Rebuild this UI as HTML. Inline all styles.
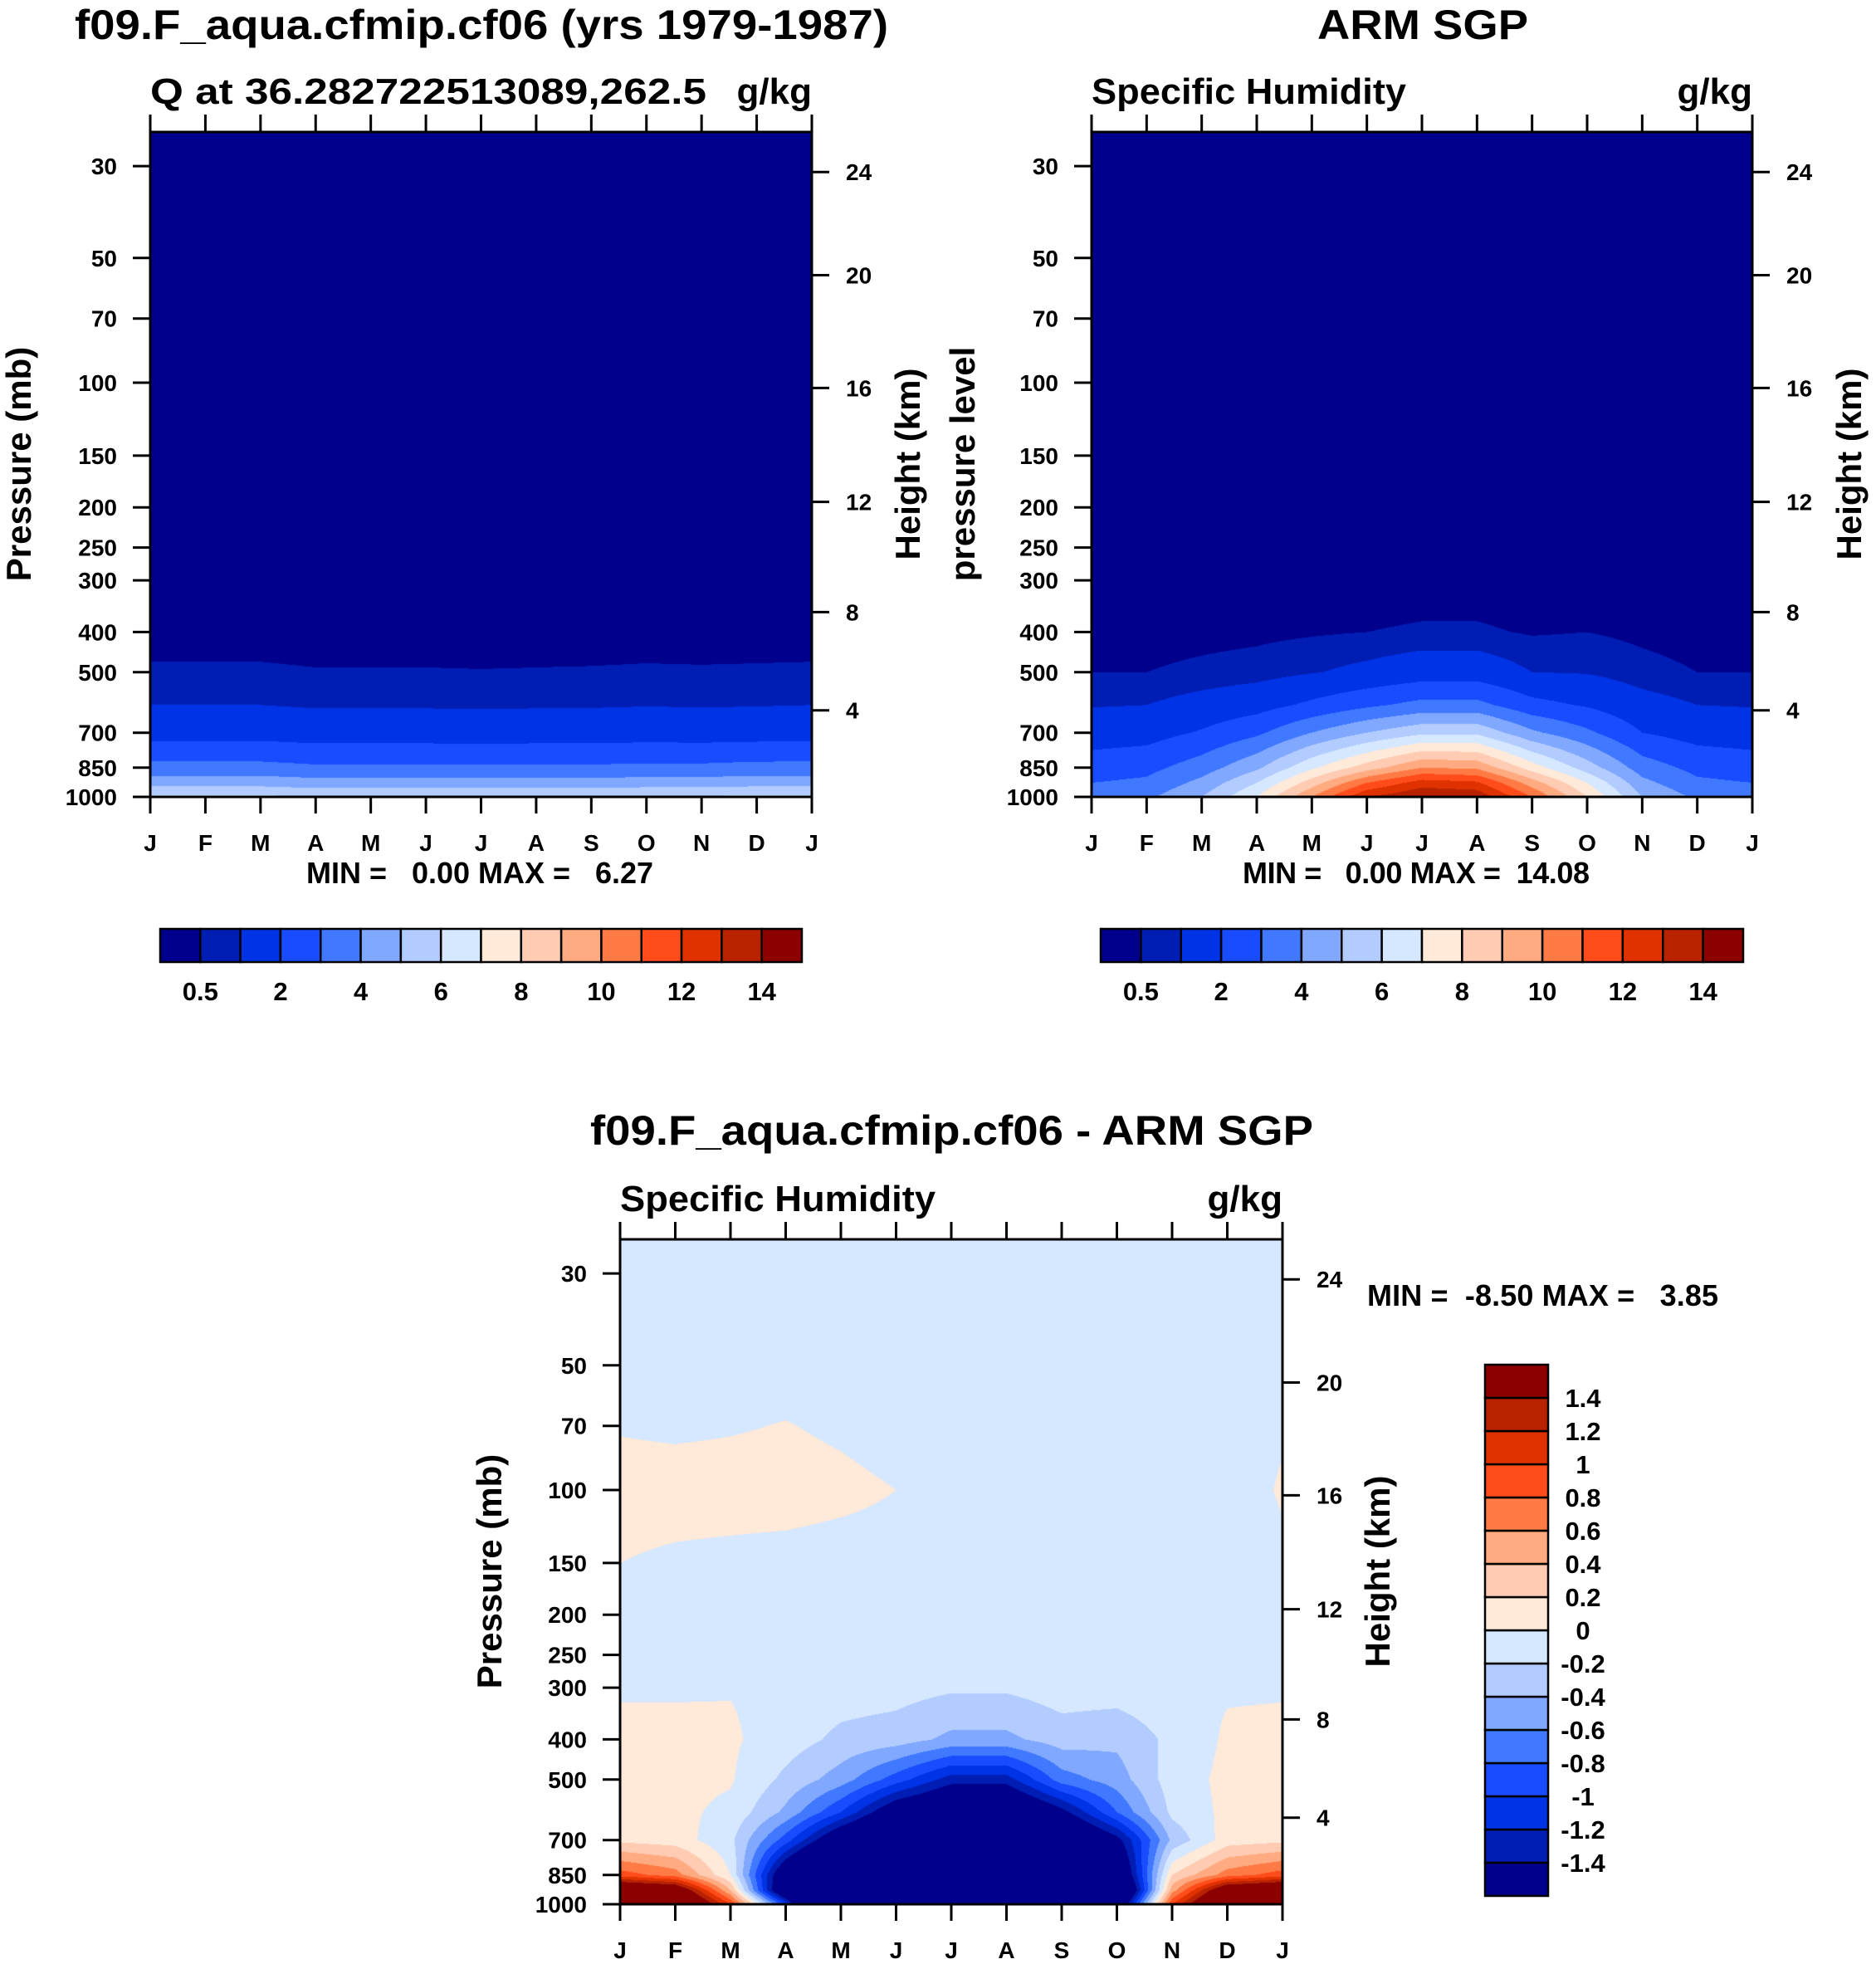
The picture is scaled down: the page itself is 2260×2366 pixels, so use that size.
<!DOCTYPE html>
<html><head><meta charset="utf-8"><style>
html,body{margin:0;padding:0;background:#fff;}
#wrap{position:relative;width:2260px;height:2366px;overflow:hidden;}
canvas,svg{position:absolute;left:0;top:0;}
text{font-family:"Liberation Sans",Arial,sans-serif;font-weight:bold;fill:#000;white-space:pre;}
</style></head><body>
<div id="wrap">
<canvas id="cv" width="2260" height="2366"></canvas>
<svg id="sv" width="2260" height="2366" xmlns="http://www.w3.org/2000/svg"></svg>
</div>
<script>
// ---------- data ----------
const months = ["J","F","M","A","M","J","J","A","S","O","N","D","J"];
const pLevels = [1000,925,850,700,600,500,400,300,200,100,50,25];
const modelQ = [
 [6.2,6.2,6.2,6.0,6.0,6.0,6.0,6.0,6.0,6.1,6.1,6.2,6.2],
 [4.6,4.6,4.6,4.4,4.4,4.4,4.4,4.4,4.4,4.5,4.5,4.6,4.6],
 [3.3,3.3,3.3,3.15,3.15,3.15,3.15,3.15,3.15,3.2,3.2,3.3,3.3],
 [1.6,1.6,1.6,1.5,1.5,1.5,1.48,1.5,1.5,1.55,1.52,1.55,1.6],
 [1.0,1.0,1.0,0.93,0.93,0.93,0.92,0.93,0.94,0.97,0.95,0.97,1.0],
 [0.57,0.57,0.57,0.53,0.53,0.53,0.52,0.53,0.54,0.56,0.55,0.56,0.57],
 [0.3,0.3,0.3,0.28,0.28,0.28,0.27,0.28,0.28,0.29,0.28,0.29,0.3],
 [0.1,0.1,0.1,0.1,0.1,0.1,0.1,0.1,0.1,0.1,0.1,0.1,0.1],
 [0.03,0.03,0.03,0.03,0.03,0.03,0.03,0.03,0.03,0.03,0.03,0.03,0.03],
 [0.003,0.003,0.003,0.003,0.003,0.003,0.003,0.003,0.003,0.003,0.003,0.003,0.003],
 [0.002,0.002,0.002,0.002,0.002,0.002,0.002,0.002,0.002,0.002,0.002,0.002,0.002],
 [0.002,0.002,0.002,0.002,0.002,0.002,0.002,0.002,0.002,0.002,0.002,0.002,0.002]];
const obsQ = [
 [3.5,3.8,5,7,10,13,14,13.8,11,8,5,3.8,3.5],
 [3,3.2,4.3,6,8.5,11,12.5,12.2,9.5,7,4.3,3.2,3],
 [2.5,2.7,3.5,4.8,6.8,8.5,10,9.8,7.5,5.5,3.5,2.7,2.5],
 [1.5,1.6,2.1,2.8,4,5,5.8,5.8,4.2,3.2,2.0,1.6,1.5],
 [0.95,1.0,1.3,1.6,2.2,2.8,3.3,3.3,2.3,1.9,1.3,1.0,0.95],
 [0.5,0.5,0.62,0.72,0.95,1.2,1.5,1.5,1.0,0.95,0.68,0.5,0.5],
 [0.28,0.28,0.33,0.38,0.44,0.5,0.58,0.58,0.45,0.5,0.38,0.28,0.28],
 [0.1,0.1,0.1,0.12,0.14,0.16,0.2,0.2,0.15,0.15,0.12,0.1,0.1],
 [0.03,0.03,0.03,0.03,0.03,0.03,0.03,0.03,0.03,0.03,0.03,0.03,0.03],
 [0.003,0.003,0.003,0.003,0.003,0.003,0.003,0.003,0.003,0.003,0.003,0.003,0.003],
 [0.002,0.002,0.002,0.002,0.002,0.002,0.002,0.002,0.002,0.002,0.002,0.002,0.002],
 [0.002,0.002,0.002,0.002,0.002,0.002,0.002,0.002,0.002,0.002,0.002,0.002,0.002]];
const dLevels = [1000,925,850,700,600,500,400,300,250,200,150,100,70,50,25];
const diffQ = [
 [2.5,2.3,1.0,-1,-4,-7,-8,-8,-5,-2,1,2.3,2.5],
 [2,1.8,0.4,-2,-3.5,-6,-6.5,-6.5,-5,-2.5,0.5,1.8,2],
 [0.9,0.7,0.0,-1.8,-3,-4.5,-5,-5,-3.5,-2,0.2,0.7,0.9],
 [0.15,0.1,-0.15,-0.9,-1.8,-2.3,-2.5,-2.5,-2.1,-1.5,-0.35,0.1,0.15],
 [0.1,0.05,-0.05,-0.45,-1.0,-1.7,-2.0,-2.0,-1.5,-0.8,-0.15,0.05,0.1],
 [0.05,0.05,0.02,-0.25,-0.5,-0.9,-1.3,-1.3,-0.7,-0.5,-0.1,0.05,0.05],
 [0.05,0.05,0.03,-0.1,-0.25,-0.3,-0.45,-0.45,-0.3,-0.35,-0.15,0.03,0.05],
 [-0.02,-0.02,-0.01,-0.05,-0.1,-0.12,-0.17,-0.17,-0.1,-0.1,-0.05,-0.02,-0.02],
 [-0.04,-0.04,-0.04,-0.05,-0.05,-0.05,-0.05,-0.05,-0.05,-0.05,-0.05,-0.04,-0.04],
 [-0.05,-0.05,-0.05,-0.05,-0.05,-0.05,-0.05,-0.05,-0.05,-0.05,-0.05,-0.05,-0.05],
 [0.0,-0.02,-0.03,-0.04,-0.05,-0.05,-0.05,-0.05,-0.05,-0.05,-0.05,-0.05,-0.02],
 [0.05,0.05,0.05,0.05,0.03,0.0,-0.05,-0.05,-0.05,-0.05,-0.05,-0.05,0.01],
 [-0.01,-0.02,-0.01,0.005,-0.02,-0.05,-0.05,-0.05,-0.05,-0.05,-0.05,-0.05,-0.01],
 [-0.05,-0.05,-0.05,-0.05,-0.05,-0.05,-0.05,-0.05,-0.05,-0.05,-0.05,-0.05,-0.05],
 [-0.05,-0.05,-0.05,-0.05,-0.05,-0.05,-0.05,-0.05,-0.05,-0.05,-0.05,-0.05,-0.05]];
const qContours = [0.5,1,2,3,4,5,6,7,8,9,10,11,12,13,14];
const qLabels = ["0.5","2","4","6","8","10","12","14"];
const dContours = [-1.4,-1.2,-1,-0.8,-0.6,-0.4,-0.2,0,0.2,0.4,0.6,0.8,1,1.2,1.4];
const dLabels = ["-1.4","-1.2","-1","-0.8","-0.6","-0.4","-0.2","0","0.2","0.4","0.6","0.8","1","1.2","1.4"];
const pTicks = [30,50,70,100,150,200,250,300,400,500,700,850,1000];
const hTicks = [4,8,12,16,20,24];
const hTickP = [618,358,194,103,55,31];
const colors = ["#00008c","#001eb4","#0032e6","#1a4cff","#4078ff","#80a8ff","#b3ccff","#d6e8ff",
 "#ffe9d8","#ffcbb2","#ffaa80","#ff7a45","#ff4c1a","#e03200","#b82200","#8c0000"];

// ---------- helpers ----------
const NS="http://www.w3.org/2000/svg";
const sv=document.getElementById('sv');
const ctx=document.getElementById('cv').getContext('2d');
function mk(tag,attrs,parent){const e=document.createElementNS(NS,tag);for(const k in attrs)e.setAttribute(k,attrs[k]);(parent||sv).appendChild(e);return e;}
function txt(s,x,y,size,anchor,extra,parent){const t=mk('text',Object.assign({x:x,y:y,'font-size':size,'text-anchor':anchor||'start'},extra||{}),parent);t.textContent=s;return t;}
const K=499;
function hex(c){return [parseInt(c.substr(1,2),16),parseInt(c.substr(3,2),16),parseInt(c.substr(5,2),16)];}
const rgb=colors.map(hex);
function sample(levels,grid,m,p){
  const lp=Math.log10(p);
  let i=0; while(i<levels.length-2 && p<levels[i+1]) i++;
  const a=Math.log10(levels[i]), b=Math.log10(levels[i+1]);
  let t=(a-lp)/(a-b); t=Math.max(0,Math.min(1,t));
  const j=Math.min(11,Math.floor(m)); const u=Math.max(0,Math.min(1,m-j));
  const r0=grid[i][j]*(1-u)+grid[i][j+1]*u, r1=grid[i+1][j]*(1-u)+grid[i+1][j+1]*u;
  return r0*(1-t)+r1*t;
}
function plot(name,box,levels,grid,contours,opts){
  const g=mk('g',{});
  
  
  const {x0,x1,y1}=box; const y0=y1-801; const w=x1-x0,h=y1-y0;
  const yOf=p=>y1-K*Math.log10(1000/p);
  const xOf=m=>x0+m/12*w;
  const img=ctx.createImageData(w,h);
  for(let py=0;py<h;py++){
    const p=1000*Math.pow(10,-(h-py-0.5)/K);
    for(let px=0;px<w;px++){
      const v=sample(levels,grid,(px+0.5)/w*12,p);
      let k=0; while(k<contours.length && v>=contours[k]) k++;
      const c=rgb[k]; const o=(py*w+px)*4;
      img.data[o]=c[0];img.data[o+1]=c[1];img.data[o+2]=c[2];img.data[o+3]=255;
    }
  }
  ctx.putImageData(img,x0,y0);
  const frame=mk('rect',{x:x0,y:y0,width:w,height:h,fill:'none',stroke:'#000','stroke-width':3},g);
   
  months.forEach((mn,i)=>{
    const x=xOf(i);
    mk('line',{x1:x,y1:y0,x2:x,y2:y0-21,stroke:'#000','stroke-width':3},g);
    mk('line',{x1:x,y1:y1,x2:x,y2:y1+20,stroke:'#000','stroke-width':3},g);
    const t=txt(mn,x,y1+65,28,'middle',{},g);
     
  });
  pTicks.forEach(p=>{
    const y=yOf(p);
    mk('line',{x1:x0,y1:y,x2:x0-21,y2:y,stroke:'#000','stroke-width':3},g);
    const t=txt(String(p),x0-40,y+10,28,'end',{},g);
     
  });
  hTicks.forEach((hk,i)=>{
    const y=yOf(hTickP[i]);
    mk('line',{x1:x1,y1:y,x2:x1+21,y2:y,stroke:'#000','stroke-width':3},g);
    const t=txt(String(hk),x1+41,y+10,28,'start',{},g);
     
  });
  const s=txt(opts.sub,x0,y0-34,44,'start',{textLength:opts.subLen,lengthAdjust:'spacingAndGlyphs'},g);
   
  const u=txt('g/kg',x1,y0-34,44,'end',{},g);
   
  const yl=txt(opts.ylab,0,0,42,'middle',{transform:`translate(${opts.ylx},${y0+400}) rotate(-90)`},g);
   
  const hl=txt('Height (km)',0,0,42,'middle',{transform:`translate(${opts.hlx},${y0+400}) rotate(-90)`},g);
   
}
function hbar(name,x0,x1,y0,y1,minmax,mmX,mmY,mmLen){
  const g=mk('g',{});
   
  const bw=(x1-x0)/colors.length;
  colors.forEach((c,i)=>{mk('rect',{x:x0+i*bw,y:y0,width:bw,height:y1-y0,fill:c,stroke:'#000','stroke-width':2.5},g);});
  qLabels.forEach((l,i)=>{
    const t=txt(l,x0+(2*i+1)*bw,y1+46,31,'middle',{},g);
     
  });
  const m=txt(minmax,mmX,mmY,36,'start',{textLength:mmLen,lengthAdjust:'spacing'},g);
   
}
// titles
let t=txt('f09.F_aqua.cfmip.cf06 (yrs 1979-1987)',90,47,50,'start',{textLength:980,lengthAdjust:'spacingAndGlyphs'});
 
t=txt('ARM SGP',1587,47,50,'start',{textLength:254,lengthAdjust:'spacingAndGlyphs'});
 
t=txt('f09.F_aqua.cfmip.cf06 - ARM SGP',711,1379,50,'start',{textLength:871,lengthAdjust:'spacingAndGlyphs'});
 

plot('model-panel',{x0:181,x1:978,y1:960},pLevels,modelQ,qContours,{sub:'Q at 36.282722513089,262.5',subLen:670,ylab:'Pressure (mb)',ylx:37,hlx:1108});
plot('obs-panel',{x0:1315,x1:2111,y1:960},pLevels,obsQ,qContours,{sub:'Specific Humidity',subLen:379,ylab:'pressure level',ylx:1174,hlx:2242});
plot('diff-panel',{x0:747,x1:1545,y1:2294},dLevels,diffQ,dContours,{sub:'Specific Humidity',subLen:380,ylab:'Pressure (mb)',ylx:604,hlx:1674});

hbar('model-colorbar',193,966,1119,1159,'MIN =   0.00 MAX =   6.27',369,1064,418);
hbar('obs-colorbar',1326,2100,1119,1159,'MIN =   0.00 MAX =  14.08',1497,1064,418);

// vertical colorbar
(function(){
  const g=mk('g',{});
   
  const x0=1789,x1=1865,y0=1644,bh=40;
  colors.forEach((c,i)=>{mk('rect',{x:x0,y:y0+(colors.length-1-i)*bh,width:x1-x0,height:bh,fill:c,stroke:'#000','stroke-width':2.5},g);});
  dLabels.forEach((l,i)=>{
    const y=y0+(colors.length-1-i)*bh;
    const t=txt(l,1907,y+11,31,'middle',{},g);
     
  });
  const m=txt('MIN =  -8.50 MAX =   3.85',1647,1573,36,'start',{textLength:423,lengthAdjust:'spacing'},g);
   
})();
</script>
</body></html>
